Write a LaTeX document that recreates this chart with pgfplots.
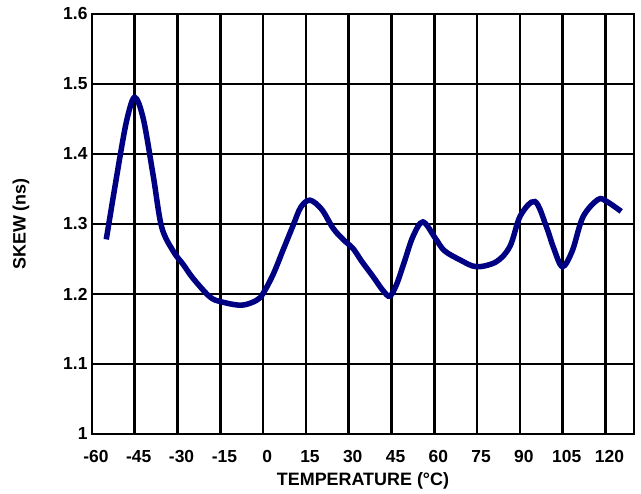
\documentclass[border=0pt]{standalone}
\usepackage{pgfplots}
\pgfplotsset{compat=1.18}
\usepackage{fontspec}
\setmainfont{Liberation Sans}
\definecolor{skewblue}{RGB}{0,0,130}
\begin{document}
\begin{tikzpicture}
\path[use as bounding box] (-92bp,-60bp) rectangle (549bp,434bp);
\begin{axis}[
    scale only axis,
    width=542bp, height=420bp,
    xmin=-60, xmax=130,
    ymin=1, ymax=1.6,
    xtick={-60,-45,-30,-15,0,15,30,45,60,75,90,105,120},
    xticklabels={-60,-45,-30,-15,0,15,30,45,60,75,90,105,120},
    ytick={1,1.1,1.2,1.3,1.4,1.5,1.6},
    yticklabels={1,1.1,1.2,1.3,1.4,1.5,1.6},
    major tick length=0pt,
    grid=major,
    major grid style={black, line width=2.6bp},
    axis line style={black, line width=2.8bp},
    tick label style={font=\fontsize{17.5}{19}\selectfont\bfseries},
    xticklabel style={anchor=base, yshift=-28bp, xshift=4bp},
    yticklabel style={anchor=east, xshift=-1bp},
    xlabel={TEMPERATURE (°C)},
    ylabel={SKEW (ns)},
    label style={font=\fontsize{18}{21}\selectfont\bfseries},
    xlabel style={at={(axis description cs:0.5,-0.1238)}, anchor=base},
    ylabel style={at={(axis description cs:-0.131,0.5)}, anchor=center},
]
\addplot[skewblue, line width=5.5bp, smooth, tension=0.55] coordinates {
(-55,1.278) (-50.2,1.396) (-47.6,1.452) (-45,1.481) (-42,1.45)
(-38.5,1.368) (-35.6,1.296) (-31.5,1.261) (-28,1.242) (-24.5,1.222)
(-18.7,1.196) (-14.8,1.189) (-7.6,1.184) (-2.3,1.191) (0,1.201)
(3.5,1.228) (7,1.263) (10.5,1.298) (13.2,1.324) (16.4,1.334)
(20.5,1.321) (24.5,1.294) (28,1.278) (31.5,1.265) (34.5,1.247)
(38.5,1.225) (42,1.205) (44.4,1.197) (46.8,1.214) (49.5,1.246)
(52.5,1.282) (56,1.303) (60.3,1.28) (63.5,1.262) (68.9,1.249)
(74.7,1.239) (81.7,1.246) (86.5,1.268) (90.2,1.312) (95.3,1.332)
(99.3,1.296) (101.8,1.266) (104.9,1.239) (108.4,1.262) (112.1,1.31)
(117.4,1.335) (120.5,1.332) (125.5,1.318)
};
\end{axis}
\end{tikzpicture}
\end{document}
